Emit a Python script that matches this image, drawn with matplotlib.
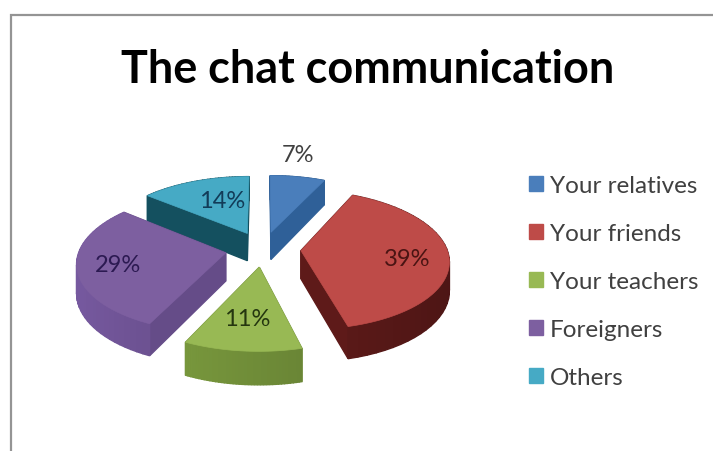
import numpy as np
import matplotlib
matplotlib.use('Agg')
import matplotlib.pyplot as plt
from matplotlib.patches import Patch, Polygon
from matplotlib.colors import to_rgb

title = 'The chat communication'
categories = ['Your relatives', 'Your friends', 'Your teachers', 'Foreigners', 'Others']
percents = [7, 39, 11, 29, 14]

top_colors = ['#4a7ebb', '#be4b48', '#98b954', '#7d5fa0', '#46aac5']
wall_colors = ['#2f6098', '#5e1a19', '#6f8c38', '#654c88', '#14505f']
text_colors = ['#404040', '#4a1413', '#24360f', '#2c1a52', '#123c58']
label_xy = [(298, 156), (407, 260), (247, 320), (118, 266), (222, 202)]

# pie geometry, in pixels of the 713x452 picture
cx, cy = 263, 250
rx, ry = 146, 68
persp = 0.13
explode = 0.26
depth = 28


def project(u, v, drop=0):
    # u, v on the pie plane (v = away from the viewer)
    s = 1 / (1 + persp * v)
    return cx + rx * u * s, cy - ry * v * s + drop * s


def slice_outline(a0, a1, du, dv, drop=0):
    ang = np.linspace(a0, a1, 80)
    pts = [project(du, dv, drop)]
    pts += [project(du + np.sin(a), dv + np.cos(a), drop) for a in ang]
    return pts


fig = plt.figure(figsize=(7.13, 4.52), dpi=100)
ax = fig.add_axes([0, 0, 1, 1])
ax.set_xlim(0, 713)
ax.set_ylim(452, 0)
ax.axis('off')

# frame of the original screenshot
ax.plot([11, 11, 713], [452, 16, 16], color='#949494', lw=1.6, solid_joinstyle='miter')

edges = np.radians(np.cumsum([0] + percents) * 3.6)
slices = []
for i in range(len(percents)):
    a0, a1 = edges[i], edges[i + 1]
    mid = (a0 + a1) / 2
    slices.append((np.cos(mid), i, a0, a1, explode * np.sin(mid), explode * np.cos(mid)))

# far slices first
for _, i, a0, a1, du, dv in sorted(slices, reverse=True):
    wall = np.array(to_rgb(wall_colors[i]))
    quads = []
    for a in (a0, a1):
        p = [project(du, dv), project(du + np.sin(a), dv + np.cos(a)),
             project(du + np.sin(a), dv + np.cos(a), depth), project(du, dv, depth)]
        quads.append((dv + np.cos(a) / 2, p, wall))
    ang = np.linspace(a0, a1, 41)
    for b0, b1 in zip(ang[:-1], ang[1:]):
        p = [project(du + np.sin(b0), dv + np.cos(b0)), project(du + np.sin(b1), dv + np.cos(b1)),
             project(du + np.sin(b1), dv + np.cos(b1), depth), project(du + np.sin(b0), dv + np.cos(b0), depth)]
        # lighter towards the left side
        shade = np.clip(wall * (1 - 0.18 * np.sin(b0)), 0, 1)
        quads.append((dv + np.cos(b0), p, shade))
    for _, p, c in sorted(quads, key=lambda q: -q[0]):
        ax.add_patch(Polygon(p, closed=True, facecolor=c, edgecolor=c, lw=1.0))
    ax.add_patch(Polygon(slice_outline(a0, a1, du, dv), closed=True,
                         facecolor=top_colors[i], edgecolor=top_colors[i], lw=0.5))

for i, pct in enumerate(percents):
    ax.text(label_xy[i][0], label_xy[i][1], f'{pct}%', color=text_colors[i], fontsize=17,
            family='Lato', ha='center', va='center')

ax.text(368, 70, title, fontsize=32.4, fontweight='bold', family='Lato', color='black',
        ha='center', va='center')

handles = [Patch(facecolor=c, edgecolor=c) for c in top_colors]
ax.legend(handles, categories, loc='upper left', bbox_to_anchor=(519, 166),
          bbox_transform=ax.transData, frameon=False, labelcolor='#404040',
          prop={'family': 'Lato', 'size': 17.5}, handlelength=0.58, handleheight=0.58,
          handletextpad=0.29, labelspacing=1.11, borderpad=0.4, borderaxespad=0)

fig.savefig('out.png', dpi=100)
